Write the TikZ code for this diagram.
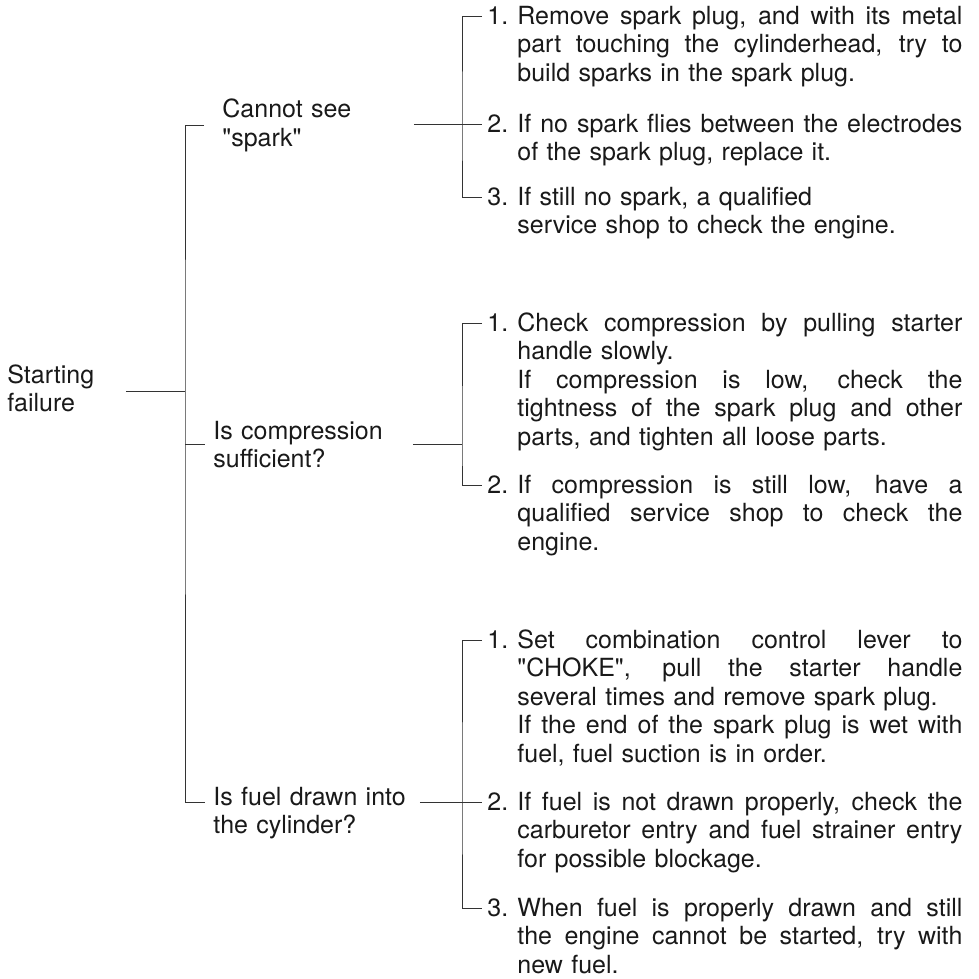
\documentclass[tikz,border=0pt]{standalone}
\usepackage{fontspec}
\setmainfont{TeX Gyre Heros}[Ligatures=TeXOff]

% one line stretched to the full text width
\newcommand{\fl}[1]{\leavevmode\hbox to \linewidth{\spaceskip=.278em plus 1fil\xspaceskip=\spaceskip\relax #1}}

\tikzset{
  lbl/.style={anchor=base west, inner sep=0pt, align=left},
  num/.style={anchor=base west, inner xsep=2.5pt, inner ysep=0pt, text height=8pt, text depth=0pt},
  txt/.style={anchor=base west, inner sep=0pt, text width=222.5pt, align=left},
  wire/.style={line width=0.5pt, black!80}
}

\begin{document}
\begin{tikzpicture}[x=0.5pt,y=-0.5pt,font=\fontsize{12.5}{14.25}\selectfont,text=black!90]
\useasboundingbox (0,0) rectangle (979,979);

% questions
\node[lbl,text width=59pt] (start) at (7,383) {Starting\\failure};
\node[lbl,text width=95.5pt] (spark) at (222,118) {Cannot see\\"spark"};
\node[lbl,text width=99.5pt] (comp) at (213,439) {Is compression\\sufficient?};
\node[lbl,text width=103pt] (fuel) at (213,805) {Is fuel drawn into\\the cylinder?};

% remedies, spark
\node[num] (s1) at (482,24.5) {1.};
\node[txt] (s1t) at (517,24.5) {\fl{Remove spark plug, and with its metal}\\
  \fl{part touching the cylinderhead, try to}\\build sparks in the spark plug.};
\node[num] (s2) at (482,132.5) {2.};
\node[txt] (s2t) at (517,132.5) {\fl{If no spark flies between the electrodes}\\
  of the spark plug, replace it.};
\node[num] (s3) at (482,205) {3.};
\node[txt] (s3t) at (517,205) {If still no spark, a qualified\\
  service shop to check the engine.};

% remedies, compression
\node[num] (k1) at (482,331) {1.};
\node[txt] (k1t) at (517,331) {\fl{Check compression by pulling starter}\\
  handle slowly.\\\fl{If compression is low, check the}\\
  \fl{tightness of the spark plug and other}\\parts, and tighten all loose parts.};
\node[num] (k2) at (482,493) {2.};
\node[txt] (k2t) at (517,493) {\fl{If compression is still low, have a}\\
  \fl{qualified service shop to check the}\\engine.};

% remedies, fuel
\node[num] (f1) at (482,648) {1.};
\node[txt] (f1t) at (517,648) {\fl{Set combination control lever to}\\
  \fl{"CHOKE", pull the starter handle}\\several times and remove spark plug.\\
  \fl{If the end of the spark plug is wet with}\\fuel, fuel suction is in order.};
\node[num] (f2) at (482,810) {2.};
\node[txt] (f2t) at (517,810) {\fl{If fuel is not drawn properly, check the}\\
  \fl{carburetor entry and fuel strainer entry}\\for possible blockage.};
\node[num] (f3) at (482,916) {3.};
\node[txt] (f3t) at (517,916) {\fl{When fuel is properly drawn and still}\\
  \fl{the engine cannot be started, try with}\\new fuel.};

% brackets
\coordinate (j0) at (185,391);
\coordinate (js) at (462,125);
\coordinate (jc) at (462,447);
\coordinate (jf) at (462,802);
\path (fuel.west |- f2.west) ++(-8,0) coordinate (fuelw);

\draw[wire] (start.east |- j0) -- (j0);
\draw[wire] ([xshift=-9pt]spark.west) -| (j0) |- (fuelw);
\draw[wire] (j0 |- comp.west) -- ([xshift=-4pt]comp.west);

\draw[wire] (s1.west) -| (js) |- (s3.west);
\draw[wire] (s2.west -| spark.east) -- (s2.west);
\draw[wire] (k1.west) -| (jc) |- (k2.west);
\draw[wire] (comp.east) -- (comp.east -| jc);
\draw[wire] (f1.west) -| (jf) |- (f3.west);
\draw[wire] (f2.west -| fuel.east) -- (f2.west);
\end{tikzpicture}
\end{document}
